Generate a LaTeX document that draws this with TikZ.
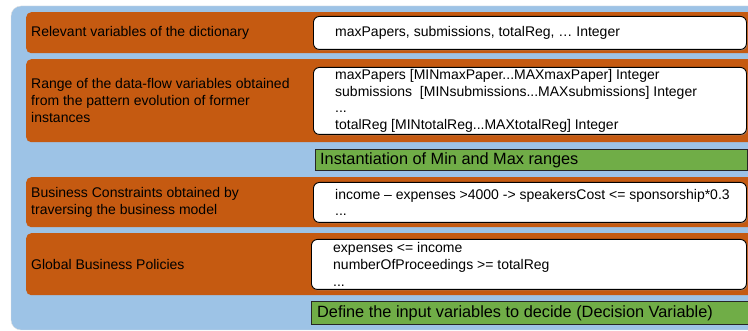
\documentclass[tikz,border=0pt]{standalone}
\usepackage{fontspec}
\setmainfont{Liberation Sans}
\usetikzlibrary{positioning,shadows}

\definecolor{panelblue}{RGB}{157,195,230}
\definecolor{rust}{RGB}{197,90,17}
\definecolor{leaf}{RGB}{112,173,71}

\tikzset{
	rustbox/.style={fill=rust, rounded corners=5pt, anchor=north west, inner sep=0pt},
	valbox/.style={draw=black, line width=0.9pt, fill=white, rounded corners=6pt, anchor=north west, inner sep=0pt,
		drop shadow={shadow xshift=0.8pt, shadow yshift=-1pt, fill=black!40, opacity=0.6}},
	phasebar/.style={draw=black!85, line width=0.9pt, fill=leaf, anchor=north west, inner sep=0pt},
	lbltxt/.style={anchor=west, align=left, inner sep=0pt, font=\fontsize{14}{17}\selectfont},
	valtxt/.style={anchor=west, align=left, inner sep=0pt, font=\fontsize{14}{16.7}\selectfont},
	phasetxt/.style={anchor=west, inner sep=0pt, font=\fontsize{16.3}{19}\selectfont}
}

\begin{document}
\begin{tikzpicture}[x=1pt, y=-1pt]
			%%%%% START %%%%%
			
			\useasboundingbox (0, 0) rectangle (748, 331);
			\clip (0, 0) rectangle (748, 331);
			
			\draw[fill=panelblue, draw=black!12, rounded corners=10pt] (11, 6) rectangle (820, 330);
			
			% left column: rust coloured bands
			\node[rustbox, minimum width=790pt, minimum height=41pt] (dict) at (26, 12) {};
			\node[rustbox, minimum width=790pt, minimum height=83pt] (range) at (26, 59) {};
			\node[rustbox, minimum width=790pt, minimum height=50pt] (bconst) at (26, 177) {};
			\node[rustbox, minimum width=790pt, minimum height=62pt] (policy) at (26, 233) {};
			
			\node[lbltxt] (dicttxt) at ([xshift=5pt]dict.west) {Relevant variables of the dictionary};
			\node[lbltxt] (rangetxt) at ([xshift=5pt]range.west) {Range of the data-flow variables obtained\\from the pattern evolution of former\\instances};
			\node[lbltxt] (bconsttxt) at ([xshift=5pt]bconst.west) {Business Constraints obtained by\\traversing the business model};
			\node[lbltxt] (policytxt) at ([xshift=5pt]policy.west) {Global Business Policies};
			
			% right column: white value boxes
			\node[valbox, minimum width=433pt, minimum height=33pt] (dictval) at (313, 16) {};
			\node[valbox, minimum width=433pt, minimum height=67pt] (rangeval) at (313, 67) {};
			\node[valbox, minimum width=433pt, minimum height=40pt] (bconstval) at (313, 182) {};
			\node[valbox, minimum width=435pt, minimum height=50pt] (policyval) at (311, 239) {};
			
			\node[valtxt] (dictvaltxt) at ([xshift=22pt]dictval.west) {maxPapers, submissions, totalReg, … Integer};
			\node[valtxt] (rangevaltxt) at ([xshift=22pt]rangeval.west) {maxPapers [MINmaxPaper...MAXmaxPaper] Integer\\submissions~ [MINsubmissions...MAXsubmissions] Integer\\...\\totalReg [MINtotalReg...MAXtotalReg] Integer};
			\node[valtxt] (bconstvaltxt) at ([xshift=22pt]bconstval.west) {income – expenses >4000 -> speakersCost <= sponsorship*0.3\\...};
			\node[valtxt] (policyvaltxt) at ([xshift=22pt]policyval.west) {expenses <= income\\numberOfProceedings >= totalReg\\...};
			
			% green phase bars
			\node[phasebar, minimum width=432pt, minimum height=21pt] (minmax) at (315, 149) {};
			\node[phasebar, minimum width=500pt, minimum height=23pt] (decide) at (311, 301) {};
			
			\node[phasetxt] (minmaxtxt) at ([xshift=5pt]minmax.west) {Instantiation of Min and Max ranges};
			\node[phasetxt] (decidetxt) at ([xshift=6pt]decide.west) {Define the input variables to decide (Decision Variable)};
			
			%%%%% END %%%%%
\end{tikzpicture}
\end{document}
